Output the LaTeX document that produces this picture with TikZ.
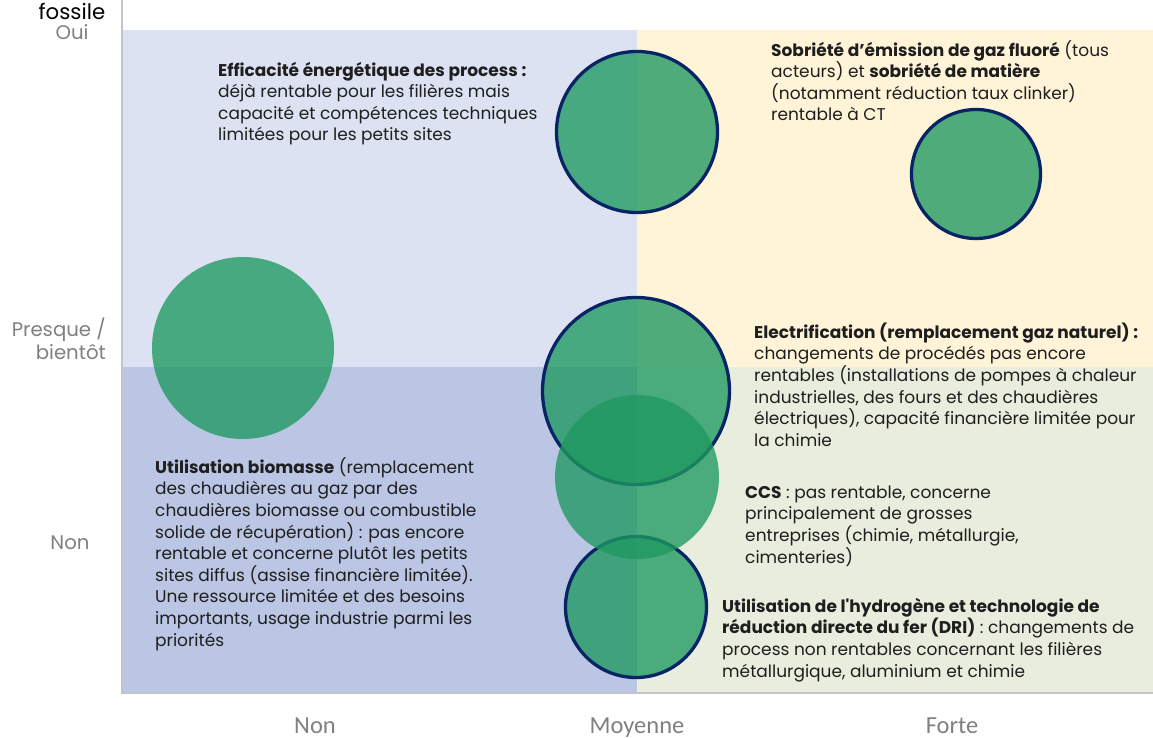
\documentclass[tikz,border=0pt]{standalone}
\usepackage{fontspec}
\setmainfont{Poppins}
\newfontfamily\axfont{Carlito}
\definecolor{qTL}{RGB}{221,226,242}
\definecolor{qTR}{RGB}{255,244,216}
\definecolor{qBL}{RGB}{186,198,228}
\definecolor{qBR}{RGB}{233,237,221}
\definecolor{bubgreen}{RGB}{30,153,96}
\definecolor{navy}{RGB}{8,36,102}
\definecolor{axgray}{RGB}{196,196,200}
\definecolor{lblgray}{RGB}{128,128,128}
\definecolor{txt}{RGB}{30,30,30}
\tikzset{
  bub/.style={circle, inner sep=0pt, fill=bubgreen, fill opacity=0.78},
  bubline/.style={bub, draw=navy, draw opacity=1, line width=3.3pt},
  blk/.style={anchor=north west, inner sep=0pt, align=left, text=txt,
    font=\fontsize{17}{21.6}\selectfont},
  ylab/.style={inner sep=0pt, text=lblgray, font=\fontsize{19.7}{22}\selectfont},
  xlab/.style={inner sep=0pt, text=lblgray, font=\axfont\fontsize{24.5}{26}\selectfont},
}
\newcommand{\fl}{\rule{0pt}{18pt}}
\newcommand{\sq}{{\addfontfeatures{Ligatures=TeXOff}'}}
\begin{document}
\begin{tikzpicture}[x=1pt,y=-1pt]
\useasboundingbox (0,0) rectangle (1153,738);
% quadrants
\fill[qTL] (122,30) rectangle (637,367);
\fill[qTR] (637,30) rectangle (1153,367);
\fill[qBL] (122,367) rectangle (637,693);
\fill[qBR] (637,367) rectangle (1153,693);
% axes
\coordinate (o) at (122,693);
\coordinate (ytop) at (122,0);
\coordinate (xend) at (1153,693);
\draw[axgray, line width=2.5pt] (ytop) -- (o) -- (xend);
% bubbles
\node[bubline, minimum size=161pt] (eff) at (637,132) {};
\node[bubline, minimum size=129pt] (sob) at (976,174) {};
\node[bub, minimum size=182pt] (bio) at (243,348) {};
\node[bubline, minimum size=187pt] (elec) at (636,391) {};
\node[bubline, minimum size=141pt] (dri) at (636,607) {};
\node[bub, minimum size=164pt] (ccs) at (637,477) {};
% text blocks
\node[blk] (t1) at (218,58) {\fl\textbf{Efficacité énergétique des process :}\\
déjà rentable pour les filières mais\\
capacité et compétences techniques\\
limitées pour les petits sites};
\node[blk] (t2) at (771,38) {\fl\textbf{Sobriété d’émission de gaz fluoré} (tous\\
acteurs) et \textbf{sobriété de matière}\\
(notamment réduction taux clinker)\\
rentable à CT};
\node[blk] (t3) at (754,320) {\fl\textbf{Electrification (remplacement gaz naturel) :}\\
changements de procédés pas encore\\
rentables (installations de pompes à chaleur\\
industrielles, des fours et des chaudières\\
électriques), capacité financière limitée pour\\
la chimie};
\node[blk] (t4) at (155,455) {\fl\textbf{Utilisation biomasse} (remplacement\\
des chaudières au gaz par des\\
chaudières biomasse ou combustible\\
solide de récupération) : pas encore\\
rentable et concerne plutôt les petits\\
sites diffus (assise financière limitée).\\
Une ressource limitée et des besoins\\
importants, usage industrie parmi les\\
priorités};
\node[blk] (t5) at (745,480) {\fl\textbf{CCS} : pas rentable, concerne\\
principalement de grosses\\
entreprises (chimie, métallurgie,\\
cimenteries)};
\node[blk] (t6) at (722,594) {\fl\textbf{Utilisation de l\sq hydrogène et technologie de}\\
\textbf{réduction directe du fer (DRI)} : changements de\\
process non rentables concernant les filières\\
métallurgique, aluminium et chimie};
% y labels
\node[inner sep=0pt, anchor=base, text=black, font=\fontsize{21.3}{23}\selectfont] (fos) at (72,20) {fossile};
\node[ylab, anchor=base] (oui) at (72,40) {Oui};
\node[ylab, anchor=base east] (pr1) at (106,336) {Presque /};
\node[ylab, anchor=base east] (pr2) at (106,359) {bientôt};
\node[ylab, anchor=base] (ynon) at (70,549) {Non};
% x labels
\node[xlab, anchor=base] (xnon) at (315,733) {Non};
\node[xlab, anchor=base] (xmoy) at (637,733) {Moyenne};
\node[xlab, anchor=base] (xfor) at (952,733) {Forte};
\end{tikzpicture}
\end{document}
